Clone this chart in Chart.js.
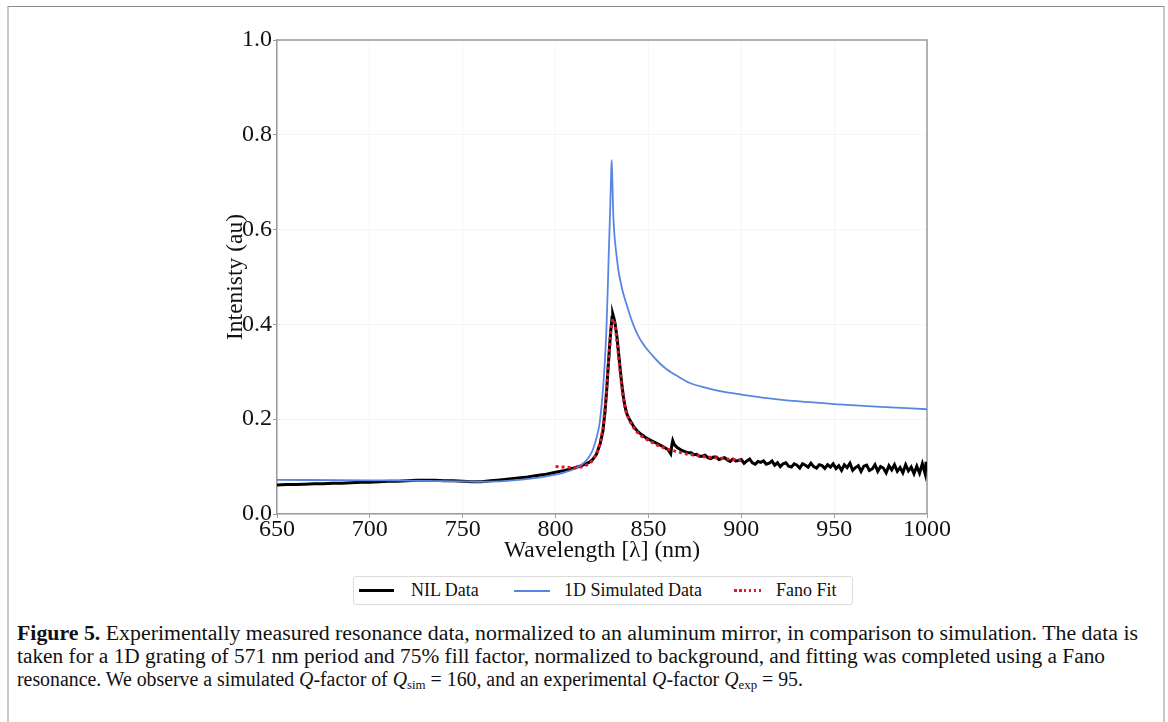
<!DOCTYPE html>
<html><head><meta charset="utf-8">
<script src="https://cdn.jsdelivr.net/npm/chart.js@4"></script>
<style>
html,body{margin:0;padding:0;background:#fff;}
body{width:1168px;height:722px;position:relative;overflow:hidden;font-family:"Liberation Serif","Times New Roman",serif;color:#111;}
#frame{position:absolute;left:7px;top:6px;width:1154px;height:730px;border-top:1px solid #8c8c8c;border-left:2px solid #c8c8c8;border-right:2px solid #c8c8c8;}
#wrap{position:absolute;left:0;top:0;width:1168px;height:565px;}
#legend{position:absolute;left:353px;top:576px;width:498px;height:27px;border:1px solid #dcdcdc;border-radius:3px;background:#fff;}
.li{position:absolute;top:0;height:27px;line-height:27px;font-size:18px;white-space:nowrap;font-family:"Liberation Serif","Times New Roman",serif;}
.ln{position:absolute;}
.cap{position:absolute;left:17px;font-family:"Liberation Serif","Times New Roman",serif;font-size:20px;line-height:23px;white-space:nowrap;transform-origin:0 50%;color:#111;}
.cap sub{font-size:13px;line-height:0;vertical-align:-3px;}
</style></head>
<body>
<div id="frame"></div>
<div id="wrap"><canvas id="c" width="1168" height="565"></canvas></div>
<div id="legend"></div>
<div class="cap" id="cap1" data-w="1121" style="top:622px;"><b>Figure 5.</b> Experimentally measured resonance data, normalized to an aluminum mirror, in comparison to simulation. The data is</div>
<div class="cap" id="cap2" data-w="1088" style="top:645px;">taken for a 1D grating of 571 nm period and 75% fill factor, normalized to background, and fitting was completed using a Fano</div>
<div class="cap" id="cap3" data-w="786" style="top:668px;">resonance. We observe a simulated <i>Q</i>-factor of <i>Q</i><sub>sim</sub> = 160, and an experimental <i>Q</i>-factor <i>Q</i><sub>exp</sub> = 95.</div>
<script>
// ---- data ----
const seriesLabels = ['NIL Data', '1D Simulated Data', 'Fano Fit'];
const xTicks = [650, 700, 750, 800, 850, 900, 950, 1000];
const yTicks = [0.0, 0.2, 0.4, 0.6, 0.8, 1.0];

const nilWl = [650,655,660,665,670,675,680,685,690,695,700,705,710,715,720,725,730,735,740,745,750,755,760,765,770,775,780,785,790,795,800,805,810,814,818,820,822,824,825.5,826.6,827.6,828.4,829.2,829.8,830.4,830.8,831.3,832,833,833.8,834.7,835.6,836.5,837.4,838.5,840,842,844,846.5,849,852,855,858,860.5,862,862.6,863.1,864,865.5,868,870,871.5,
873,874.5,876,877.5,879,880.5,882,883.5,885,886.5,888,889.5,891,892.5,894,895.5,897,898.5,
900,901.5,903,904.5,906,907.5,909,910.5,912,913.5,915,916.5,918,919.5,921,922.5,924,925.5,927,928.5,930,931.5,933,934.5,936,937.5,939,940.5,942,943.5,945,946.5,948,
949.5,951,952.5,954,955.5,957,958.5,960,961.5,963,964.5,966,967.5,969,970.5,972,973.5,975,976.5,978,979.5,981,982.5,984,985.5,987,988.5,990,991.5,993,994.5,996,997.5,999,999.5,1000];
const nilInt = [0.061,0.062,0.062,0.063,0.064,0.064,0.065,0.065,0.066,0.067,0.067,0.068,0.069,0.069,0.070,0.071,0.071,0.071,0.070,0.070,0.069,0.068,0.068,0.070,0.072,0.074,0.076,0.078,0.081,0.084,0.088,0.092,0.097,0.102,0.109,0.115,0.126,0.148,0.175,0.215,0.265,0.315,0.360,0.390,0.415,0.422,0.415,0.403,0.375,0.345,0.310,0.276,0.248,0.226,0.210,0.198,0.185,0.175,0.167,0.160,0.154,0.148,0.142,0.136,0.127,0.145,0.155,0.146,0.140,0.134,0.131,0.129,
0.129,0.125,0.126,0.122,0.122,0.124,0.119,0.117,0.120,0.120,0.115,0.117,0.119,0.114,0.111,0.116,0.112,0.113,
0.115,0.107,0.112,0.116,0.108,0.105,0.111,0.109,0.112,0.105,0.107,0.112,0.103,0.108,0.100,0.106,0.108,0.101,0.099,0.106,0.103,0.097,0.106,0.103,0.099,0.107,0.100,0.097,0.104,0.102,0.096,0.104,0.099,
0.106,0.096,0.102,0.092,0.104,0.098,0.107,0.092,0.098,0.102,0.090,0.101,0.103,0.092,0.095,0.104,0.090,0.100,0.097,0.087,0.102,0.093,0.104,0.090,0.098,0.087,0.104,0.091,0.099,0.085,0.101,0.086,0.106,0.085,0.110,0.092];

const simWl = [650,700,750,760,770,780,790,800,805,810,815,818,820,822,823.7,825.5,826.5,827.3,828.2,828.7,829.3,829.8,830.2,830.6,831,831.5,832,833,834,835,836,837,838,840,842,845,848,852,856,860,866,872,880,890,900,915,930,950,975,1000];
const simInt = [0.072,0.071,0.069,0.068,0.069,0.072,0.076,0.083,0.088,0.095,0.107,0.120,0.135,0.160,0.191,0.262,0.320,0.381,0.487,0.557,0.630,0.700,0.747,0.700,0.640,0.600,0.575,0.540,0.510,0.490,0.472,0.458,0.445,0.420,0.398,0.372,0.354,0.335,0.318,0.305,0.290,0.277,0.267,0.258,0.252,0.244,0.238,0.232,0.226,0.221];

const fanoWl = [800,805,810,815,818,820,822,824,825.5,827,828.5,829.7,830.8,832,833.5,835,836.5,838,840,843,846,850,855,860,865,870,875,880,890,900];
const fanoInt = [0.100,0.099,0.097,0.100,0.106,0.113,0.126,0.150,0.180,0.240,0.320,0.385,0.412,0.400,0.350,0.290,0.245,0.215,0.195,0.176,0.165,0.155,0.145,0.137,0.132,0.127,0.124,0.121,0.117,0.113];

const colors = ['#000000', '#5a86e3', '#e3172b'];

function pts(xs, ys) { return xs.map((x, i) => ({ x: x, y: ys[i] })); }

const boxPlugin = {
  id: 'box',
  beforeDatasetsDraw(chart) {
    const a = chart.chartArea, ctx = chart.ctx;
    ctx.save();
    ctx.strokeStyle = '#9a9a9a';
    ctx.lineWidth = 1.5;
    ctx.beginPath();
    ctx.moveTo(a.left, a.top); ctx.lineTo(a.right, a.top); ctx.lineTo(a.right, a.bottom);
    ctx.stroke();
    ctx.restore();
  }
};

const tickFont = { family: '"Liberation Serif","Times New Roman",serif', size: 24 };
const titleFont = { family: '"Liberation Serif","Times New Roman",serif', size: 23.5 };

new Chart(document.getElementById('c'), {
  type: 'scatter',
  data: {
    datasets: [
      { label: seriesLabels[0], data: pts(nilWl, nilInt), showLine: true, borderColor: colors[0], borderWidth: 3, pointRadius: 0, order: 2 },
      { label: seriesLabels[1], data: pts(simWl, simInt), showLine: true, borderColor: colors[1], borderWidth: 1.8, pointRadius: 0, order: 1, cubicInterpolationMode: 'monotone' },
      { label: seriesLabels[2], data: pts(fanoWl, fanoInt), showLine: true, borderColor: colors[2], borderWidth: 3, borderDash: [3, 3], pointRadius: 0, order: 0 }
    ]
  },
  options: {
    responsive: false,
    animation: false,
    layout: { padding: { left: 222, right: 241, top: 40, bottom: 0 } },
    plugins: { legend: { display: false }, tooltip: { enabled: false } },
    scales: {
      x: {
        type: 'linear', min: 650, max: 1000,
        afterBuildTicks: s => { s.ticks = xTicks.map(v => ({ value: v })); },
        afterFit: s => { s.height = 51; },
        ticks: { font: tickFont, color: '#111', padding: -3, maxRotation: 0, callback: v => String(v) },
        grid: { color: 'rgba(0,0,0,0.035)', tickLength: 4, tickColor: '#9a9a9a' },
        border: { color: '#9a9a9a', width: 1.5 },
        title: { display: true, text: 'Wavelength [λ] (nm)', font: titleFont, color: '#111', padding: { top: 0, bottom: 0 } }
      },
      y: {
        min: 0, max: 1,
        afterBuildTicks: s => { s.ticks = yTicks.map(v => ({ value: v })); },
        afterFit: s => { s.width = 55; },
        ticks: { font: tickFont, color: '#111', padding: 1, callback: v => v.toFixed(1) },
        grid: { color: 'rgba(0,0,0,0.035)', tickLength: 4, tickColor: '#9a9a9a' },
        border: { color: '#9a9a9a', width: 1.5 },
        title: { display: true, text: 'Intenisty (au)', font: titleFont, color: '#111', padding: { top: 0, bottom: 0 } }
      }
    }
  },
  plugins: [boxPlugin]
});

// ---- legend (HTML) ----
const lg = document.getElementById('legend');
const lineX = [5, 160, 380], textX = [57, 210, 422];
const lineStyles = [
  'width:35px;height:3px;top:12px;background:' + colors[0] + ';',
  'width:36px;height:2px;top:13px;background:' + colors[1] + ';',
  'width:28px;height:3px;top:12px;background:repeating-linear-gradient(90deg,' + colors[2] + ' 0 2.5px,transparent 2.5px 5px);'
];
seriesLabels.forEach((lab, i) => {
  const l = document.createElement('div'); l.className = 'ln';
  l.style.cssText = 'left:' + lineX[i] + 'px;' + lineStyles[i];
  lg.appendChild(l);
  const t = document.createElement('div'); t.className = 'li';
  t.style.left = textX[i] + 'px'; t.textContent = lab;
  lg.appendChild(t);
});

// ---- caption width fit ----
['cap1', 'cap2', 'cap3'].forEach(id => {
  const el = document.getElementById(id);
  const w = el.getBoundingClientRect().width;
  const target = +el.dataset.w;
  el.style.transform = 'scaleX(' + (target / w).toFixed(4) + ')';
});
</script>
</body></html>
